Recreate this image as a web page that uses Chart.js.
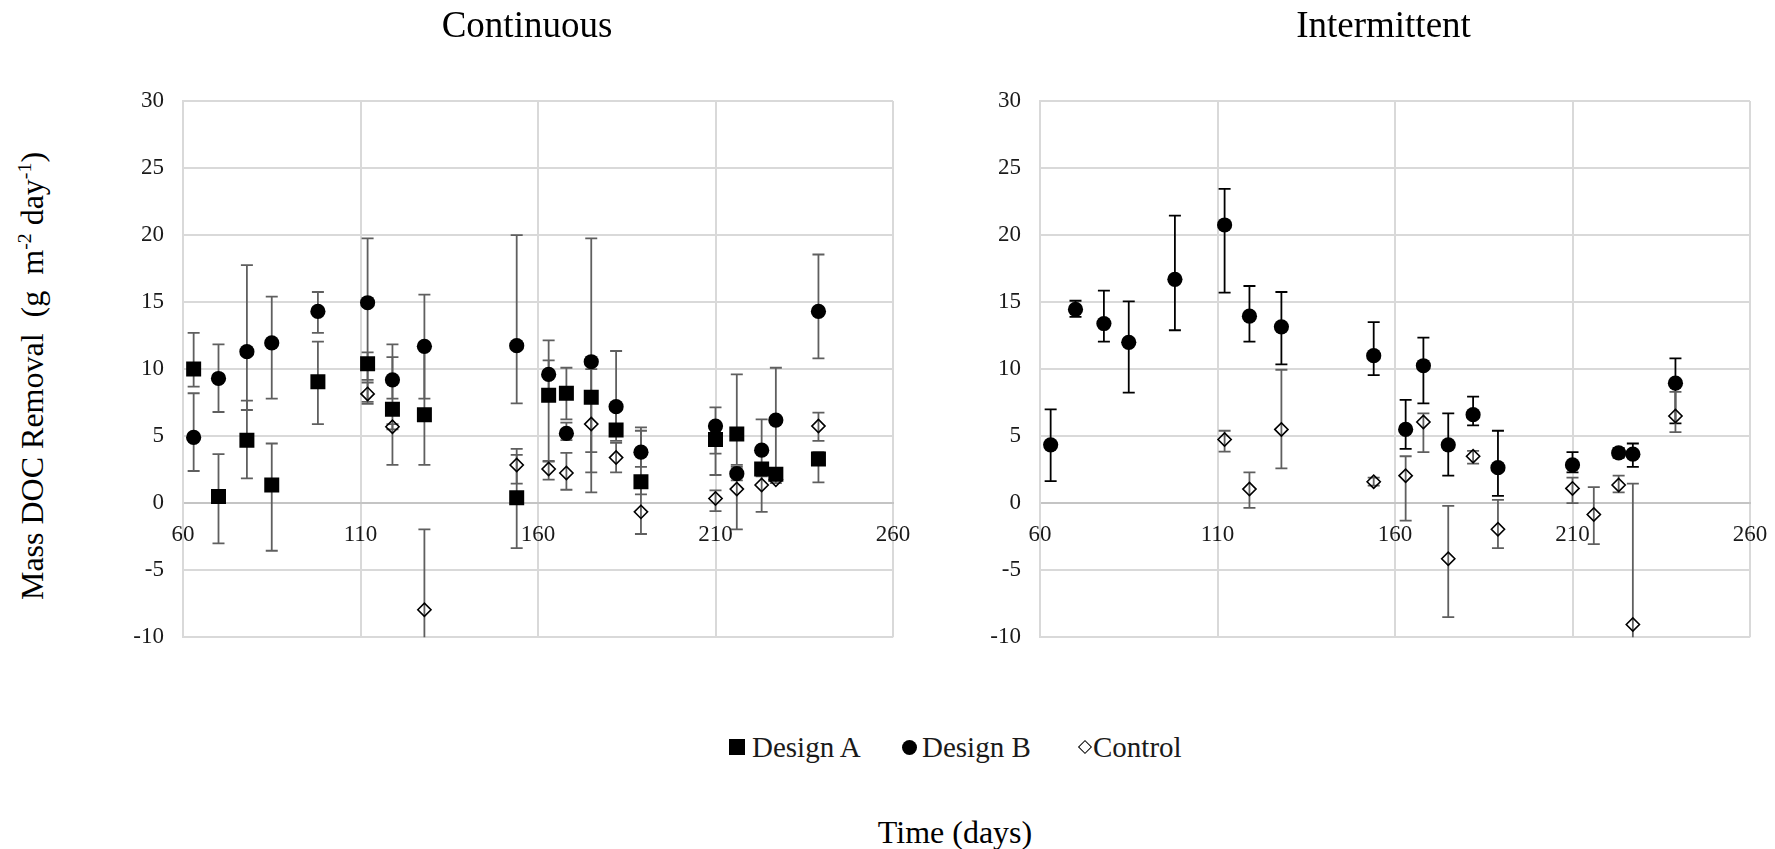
<!DOCTYPE html>
<html>
<head>
<meta charset="utf-8">
<script src="https://cdn.jsdelivr.net/npm/chart.js@4.4.1/dist/chart.umd.min.js"></script>
<style>
    html, body { margin: 0; padding: 0; background: #fff; overflow: hidden; }
    body { width: 1775px; height: 849px; position: relative; font-family: "Liberation Serif", "Times New Roman", serif; color: #000; }
    canvas { position: absolute; top: 0; }
    #cont { left: 100px; }
    #inter { left: 965px; }
    .ytitle { position: absolute; left: 32px; top: 376px; transform: translate(-50%, -50%) rotate(-90deg); white-space: pre; font-size: 32px; }
    .ytitle sup { font-size: 0.62em; vertical-align: 0.6em; line-height: 0; }
    .xtitle { position: absolute; left: 955px; top: 832px; transform: translate(-50%, -50%); font-size: 32px; white-space: nowrap; }
    .lg { position: absolute; top: 730px; height: 34px; display: flex; align-items: center; font-size: 29px; color: #1a1a1a; white-space: nowrap; }
    .sq { width: 16px; height: 16px; background: #000; margin-right: 7px; }
    .ci { width: 15px; height: 15px; background: #000; border-radius: 50%; margin-right: 5px; }
    .di { width: 8px; height: 8px; border: 1.5px solid #000; transform: rotate(45deg); margin: 0 3px 0 2px; }
</style>
</head>
<body>
<canvas id="cont" width="860" height="670"></canvas>
<canvas id="inter" width="832" height="670"></canvas>
<div class="ytitle">Mass DOC Removal  (g  m<sup>-2</sup> day<sup>-1</sup>)</div>
<div class="lg" style="left:729px"><span class="sq"></span>Design A</div>
<div class="lg" style="left:902px"><span class="ci"></span>Design B</div>
<div class="lg" style="left:1078px"><span class="di"></span>Control</div>
<div class="xtitle">Time (days)</div>
<script>
const FONT = '"Liberation Serif", "Times New Roman", serif';

const days = [63, 70, 78, 85, 98, 112, 119, 128, 154, 163, 168, 175, 182, 189, 210, 216, 223, 227, 239];

// Continuous
const contA   = [10.0, 0.5, 4.7, 1.35, 9.05, 10.4, 7.0, 6.6, 0.4, 8.05, 8.2, 7.9, 5.45, 1.6, 4.75, 5.15, 2.55, 2.15, 3.3];
const contALo = [8.7, -3.0, 1.85, -3.55, 5.9, 7.55, 2.85, 2.85, -3.35, 3.15, 6.25, 3.8, 4.65, 0.65, 2.1, 2.85, 2.0, 1.7, 1.55];
const contAHi = [12.7, 3.65, 7.65, 4.45, 12.05, 11.25, 10.9, 11.7, 3.6, 10.65, 10.1, 10.0, 7.0, 5.4, 5.6, 9.6, 3.0, 2.6, 3.8];

const contB   = [4.9, 9.3, 11.3, 11.95, 14.3, 14.95, 9.2, 11.7, 11.75, 9.6, 5.2, 10.55, 7.2, 3.8, 5.75, 2.2, 3.95, 6.2, 14.3];
const contBLo = [2.4, 6.8, 6.95, 7.8, 12.7, 9.2, 7.8, 7.8, 7.45, 8.1, 4.7, 2.3, 5.4, 2.7, 3.7, 1.7, 2.5, 2.2, 10.8];
const contBHi = [8.2, 11.85, 17.75, 15.4, 15.75, 19.75, 11.85, 15.55, 20.0, 12.15, 6.0, 19.75, 11.35, 5.65, 7.15, 2.7, 6.25, 10.1, 18.55];

const contC   = [null, null, null, null, null, 8.15, 5.7, -7.95, 2.85, 2.55, 2.25, 5.9, 3.4, -0.65, 0.35, 1.05, 1.35, 1.75, 5.75];
const contCLo = [null, null, null, null, null, 7.4, 5.5, -14, 1.45, 1.75, 1.0, 0.8, 2.3, -2.3, -0.6, -1.95, -0.65, 1.5, 4.65];
const contCHi = [null, null, null, null, null, 9.0, 5.9, -1.95, 4.05, 3.1, 3.75, 7.9, 4.5, 1.6, 0.95, 2.2, 2.5, 2.0, 6.75];

// Intermittent
const intB   = [4.35, 14.45, 13.4, 12.0, 16.7, 20.75, 13.95, 13.15, 11.0, 5.5, 10.25, 4.35, 6.6, 2.65, 2.85, null, 3.75, 3.65, 8.95];
const intBLo = [1.65, 13.9, 12.05, 8.25, 12.9, 15.7, 12.05, 10.35, 9.55, 4.05, 7.45, 2.05, 5.8, 0.55, 2.3, null, 3.4, 2.7, 5.95];
const intBHi = [7.0, 15.1, 15.85, 15.05, 21.45, 23.45, 16.2, 15.75, 13.5, 7.7, 12.35, 6.7, 7.95, 5.4, 3.8, null, 4.1, 4.45, 10.8];

const intC   = [null, null, null, null, null, 4.75, 1.05, 5.5, 1.6, 2.05, 6.05, -4.15, 3.5, -1.95, 1.1, -0.85, 1.35, -9.05, 6.5];
const intCLo = [null, null, null, null, null, 3.85, -0.35, 2.6, 1.3, -1.3, 3.8, -8.5, 2.95, -3.35, 0.0, -3.05, 0.8, -14, 5.3];
const intCHi = [null, null, null, null, null, 5.4, 2.3, 9.95, 1.9, 3.5, 6.7, -0.2, 3.9, 0.25, 1.9, 1.2, 2.05, 1.45, 8.3];

const xTicks = { min: 60, max: 260, step: 50 };
const yTicks = { min: -10, max: 30, step: 5 };

function points(vals, lo, hi) {
    return days
        .map((d, i) => ({ x: d, y: vals[i], lo: lo[i], hi: hi[i] }))
        .filter((p) => p.y !== null);
}

// draws the vertical error bars with caps, under the markers
const errorBars = {
    id: "errorBars",
    beforeDatasetsDraw(chart) {
        const ctx = chart.ctx;
        const xs = chart.scales.x;
        const ys = chart.scales.y;
        const a = chart.chartArea;
        ctx.save();
        ctx.beginPath();
        ctx.rect(a.left, a.top, a.right - a.left, a.bottom - a.top);
        ctx.clip();
        chart.data.datasets.forEach((ds) => {
            ctx.strokeStyle = ds.errorColor;
            ctx.lineWidth = 1.8;
            ds.data.forEach((p) => {
                if (p.lo === null) return;
                const px = xs.getPixelForValue(p.x);
                const pl = ys.getPixelForValue(p.lo);
                const ph = ys.getPixelForValue(p.hi);
                ctx.beginPath();
                ctx.moveTo(px, pl);
                ctx.lineTo(px, ph);
                ctx.moveTo(px - 6, pl);
                ctx.lineTo(px + 6, pl);
                ctx.moveTo(px - 6, ph);
                ctx.lineTo(px + 6, ph);
                ctx.stroke();
            });
        });
        ctx.restore();
    },
};

function square(label, data, errColor) {
    return { label, data, errorColor: errColor, pointStyle: "rect", pointRadius: 10.6, backgroundColor: "#000", borderColor: "#000", borderWidth: 0 };
}
function circle(label, data, errColor) {
    return { label, data, errorColor: errColor, pointStyle: "circle", pointRadius: 7.6, backgroundColor: "#000", borderColor: "#000", borderWidth: 0 };
}
function diamond(label, data, errColor) {
    return { label, data, errorColor: errColor, pointStyle: "rectRot", pointRadius: 6.6, backgroundColor: "rgba(0,0,0,0)", borderColor: "#000", borderWidth: 1.6 };
}

// spareRight: empty right-hand box so the title centres where the reference has it
function makeChart(id, title, datasets, padLeft, padRight, spareRight) {
    const tickFont = { family: FONT, size: 23 };
    new Chart(document.getElementById(id), {
        type: "scatter",
        data: { datasets },
        plugins: [errorBars],
        options: {
            responsive: false,
            animation: false,
            events: [],
            layout: { padding: { left: padLeft, right: padRight, top: 0, bottom: 32 } },
            plugins: {
                legend: { display: false },
                tooltip: { enabled: false },
                title: {
                    display: true,
                    text: title,
                    color: "#000",
                    font: { family: FONT, size: 37, weight: "normal" },
                    padding: { top: 5, bottom: 51.6 },
                },
            },
            scales: {
                x: {
                    type: "linear",
                    position: { y: 0 },
                    min: xTicks.min,
                    max: xTicks.max,
                    ticks: { stepSize: xTicks.step, padding: 18, color: "#1a1a1a", font: tickFont, maxRotation: 0 },
                    grid: { color: "#d9d9d9", lineWidth: 2, drawTicks: false },
                    border: { color: "#c4c4c4", width: 2 },
                },
                y: {
                    type: "linear",
                    position: "left",
                    min: yTicks.min,
                    max: yTicks.max,
                    ticks: { stepSize: yTicks.step, padding: 19, color: "#1a1a1a", font: tickFont },
                    grid: { color: "#d9d9d9", lineWidth: 2, drawTicks: false },
                    border: { color: "#d9d9d9", width: 2 },
                    afterFit(s) { s.width = 60; },
                },
                yr: {
                    type: "linear",
                    position: "right",
                    ticks: { display: false },
                    grid: { display: false },
                    border: { display: false },
                    afterFit(s) { s.width = spareRight; },
                },
            },
        },
    });
}

const GRAY = "#5f5f5f";

makeChart("cont", "Continuous", [
    square("Design A", points(contA, contALo, contAHi), GRAY),
    circle("Design B", points(contB, contBLo, contBHi), GRAY),
    diamond("Control", points(contC, contCLo, contCHi), GRAY),
], 23, 29, 38);

makeChart("inter", "Intermittent", [
    circle("Design B", points(intB, intBLo, intBHi), "#000"),
    diamond("Control", points(intC, intCLo, intCHi), GRAY),
], 15, 10, 37);
</script>
</body>
</html>
